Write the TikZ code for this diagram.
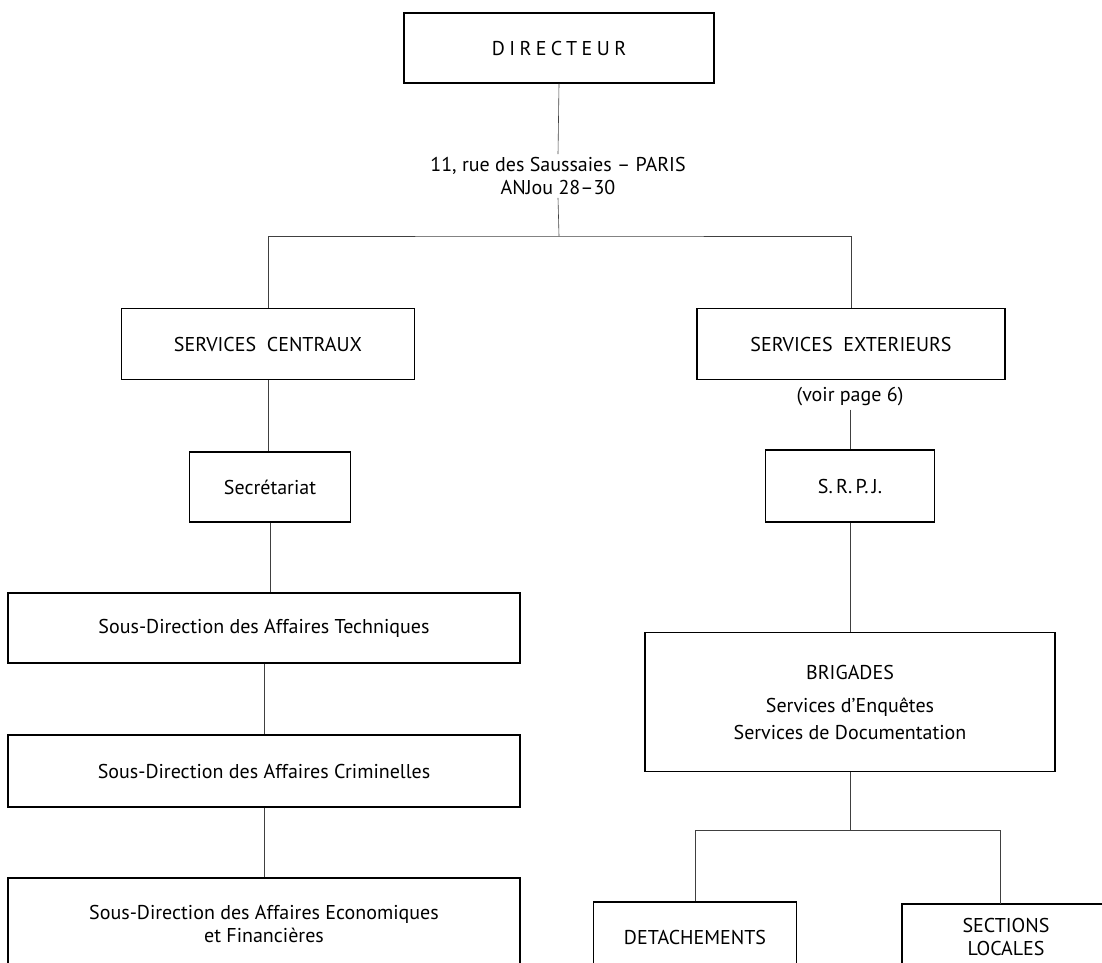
\documentclass[tikz,border=0pt]{standalone}
\usepackage{fontspec}
\setmainfont{PT Sans}
\usetikzlibrary{positioning}

\tikzset{
  box/.style={draw, line width=1.3pt, align=center, inner sep=0pt},
  link/.style={line width=0.6pt, black!75},
  note/.style={align=center, inner sep=3pt},
}

\begin{document}
\begin{tikzpicture}[x=1pt, y=-1pt, font=\fontsize{20}{23}\selectfont]
  \useasboundingbox (0,0) rectangle (1102,962);

  % head
  \node[box, minimum width=310pt, minimum height=70pt] (dir) at (559,48)
    {\addfontfeature{LetterSpace=22}DIRECTEUR};
  \node[note] (addr) at (558,176) {11, rue des Saussaies -- PARIS\\ANJou 28--30};
  \coordinate (bus) at (559,236);
  \draw[link] (dir.south) -- (addr.north);
  \draw[link] (addr.south) -- (bus);

  % services centraux
  \node[box, minimum width=293pt, minimum height=71pt] (centraux) at (268,344) {SERVICES\ \ CENTRAUX};
  \node[box, minimum width=161pt, minimum height=70pt] (secret) at (270,487) {Secrétariat};
  \node[box, minimum width=512pt, minimum height=70pt] (techn) at (264,628) {Sous-Direction des Affaires Techniques};
  \node[box, minimum width=512pt, minimum height=72pt] (crimi) at (264,771) {Sous-Direction des Affaires Criminelles};
  \node[box, minimum width=512pt, minimum height=92pt] (econo) at (264,924)
    {Sous-Direction des Affaires Economiques\\et Financières};

  % services exterieurs
  \node[box, minimum width=308pt, minimum height=71pt] (exter) at (851,344) {SERVICES\ \ EXTERIEURS};
  \node[note] (voir) at (850,397) {(voir page 6)};
  \node[box, minimum width=169pt, minimum height=72pt] (srpj) at (850,486) {S.\,R.\,P.\,J.};
  \node[box, minimum width=410pt, minimum height=139pt] (brig) at (850,702)
    {BRIGADES\\[10pt]Services d'Enquêtes\\[4pt]Services de Documentation};
  \coordinate (bus2) at (850,830);
  \node[box, minimum width=203pt, minimum height=70pt] (detach) at (695,937) {DETACHEMENTS};
  \node[box, minimum width=208pt, minimum height=66pt] (sections) at (1006,937) {SECTIONS\\LOCALES};
  \coordinate (sectop) at (1000,904);

  % links
  \draw[link] (centraux.north) |- (bus) -| (exter.north);
  \draw[link] (centraux.south) -- (centraux.south |- secret.north);
  \draw[link] (secret.south) -- (secret.south |- techn.north);
  \draw[link] (techn.south) -- (techn.south |- crimi.north);
  \draw[link] (crimi.south) -- (crimi.south |- econo.north);
  \draw[link] (voir.south) -- (srpj.north);
  \draw[link] (srpj.south) -- (brig.north);
  \draw[link] (brig.south) -- (bus2);
  \draw[link] (detach.north) |- (bus2) -| (sectop);

\end{tikzpicture}
\end{document}
